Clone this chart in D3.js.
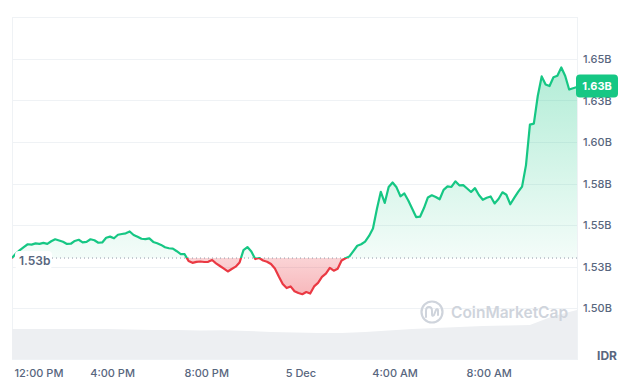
<!DOCTYPE html>
<html><head><meta charset="utf-8">
<script src="https://cdn.jsdelivr.net/npm/d3@7"></script>
<style>
html,body{margin:0;padding:0;background:#fff;}
svg{display:block;font-family:Inter,"Noto Sans",sans-serif;}
</style></head>
<body><svg id="c" width="628" height="383"></svg>
<script>
// ---- data ----
const startTime = new Date(2024, 11, 4, 11, 45);
const stepMinutes = 10;
// price in billions IDR, 10-minute samples
const prices = [
1.5301,1.5328,1.5349,1.5367,1.5384,1.5382,1.5389,1.5386,1.5392,1.5386,
1.5402,1.5414,1.5407,1.5399,1.5386,1.5387,1.5404,1.5411,1.5395,1.5398,
1.5414,1.5408,1.5393,1.5395,1.5423,1.5430,1.5420,1.5441,1.5446,1.5450,
1.5461,1.5440,1.5429,1.5417,1.5415,1.5419,1.5398,1.5390,1.5380,1.5366,
1.5360,1.5358,1.5342,1.5325,1.5324,1.5283,1.5272,1.5278,1.5280,1.5277,
1.5278,1.5289,1.5269,1.5253,1.5237,1.5220,1.5235,1.5249,1.5274,1.5349,
1.5367,1.5340,1.5295,1.5301,1.5286,1.5279,1.5265,1.5238,1.5190,1.5145,
1.5120,1.5130,1.5101,1.5090,1.5083,1.5096,1.5087,1.5130,1.5151,1.5187,
1.5207,1.5242,1.5225,1.5237,1.5286,1.5300,1.5311,1.5343,1.5375,1.5384,
1.5400,1.5434,1.5479,1.5596,1.5700,1.5633,1.5729,1.5756,1.5727,1.5673,
1.5690,1.5648,1.5598,1.5548,1.5550,1.5602,1.5666,1.5679,1.5669,1.5655,
1.5712,1.5733,1.5729,1.5763,1.5739,1.5740,1.5720,1.5699,1.5722,1.5681,
1.5652,1.5664,1.5672,1.5630,1.5657,1.5697,1.5682,1.5625,1.5663,1.5699,
1.5731,1.5861,1.6105,1.6111,1.6277,1.6395,1.6346,1.6337,1.6390,1.6399,
1.6449,1.6398,1.6316,1.6324,1.6331
];
// 24h volume, trillions IDR, hourly samples
const volumes = [600,600,600,600,600,590,580,580,570,574,560,540,530,520,520,540,570,600,620,640,660,670,680,860,980];
const yTickValues = [1.50,1.525,1.55,1.575,1.60,1.625,1.65];
const yTickLabels = ["1.50B","1.53B","1.55B","1.58B","1.60B","1.63B","1.65B"];
const xTickValues = [new Date(2024,11,4,12),new Date(2024,11,4,16),new Date(2024,11,4,20),new Date(2024,11,5,0),new Date(2024,11,5,4),new Date(2024,11,5,8)];
const xTickLabels = ["12:00 PM","4:00 PM","8:00 PM","5 Dec","4:00 AM","8:00 AM"];
const currencyLabel = "IDR";
const baseLabel = "1.53b";
const lastLabel = "1.63B";

// ---- layout ----
const L = 12, R = 577, T = 17, B = 359;
const GREEN = "#16c784", RED = "#ea3943", GREY = "#58667e";
const svg = d3.select("#c");

const times = prices.map((d,i) => d3.timeMinute.offset(startTime, i*stepMinutes));
const volTimes = volumes.map((d,i) => d3.timeHour.offset(startTime, i));
const x = d3.scaleTime().domain([times[0], times[times.length-1]]).range([L, R]);
const y = d3.scaleLinear().domain([1.50, 1.65]).range([308, 59]);
const yVol = d3.scaleLinear().domain([0, 1000]).range([B, B-50]);
const base = prices[0];
const yb = y(base);

const defs = svg.append("defs");
const gg = defs.append("linearGradient").attr("id","gGreen").attr("gradientUnits","userSpaceOnUse")
  .attr("x1",0).attr("x2",0).attr("y1",y(1.65)).attr("y2",yb);
gg.append("stop").attr("offset",0).attr("stop-color",GREEN).attr("stop-opacity",0.34);
gg.append("stop").attr("offset",1).attr("stop-color",GREEN).attr("stop-opacity",0.05);
const gr = defs.append("linearGradient").attr("id","gRed").attr("gradientUnits","userSpaceOnUse")
  .attr("x1",0).attr("x2",0).attr("y1",yb).attr("y2",y(1.508));
gr.append("stop").attr("offset",0).attr("stop-color",RED).attr("stop-opacity",0.22);
gr.append("stop").attr("offset",1).attr("stop-color",RED).attr("stop-opacity",0.36);
defs.append("clipPath").attr("id","cAbove").append("rect").attr("x",L).attr("y",T).attr("width",R-L+2).attr("height",yb-T);
defs.append("clipPath").attr("id","cBelow").append("rect").attr("x",L).attr("y",yb).attr("width",R-L+2).attr("height",B-yb);

// frame
svg.append("rect").attr("x",L+0.5).attr("y",T+0.5).attr("width",R-L).attr("height",B-T)
  .attr("fill","none").attr("stroke","#eff2f5");

// gridlines
svg.append("g").selectAll("line").data(yTickValues).join("line")
  .attr("x1",L).attr("x2",R).attr("y1",d=>Math.round(y(d))+0.5).attr("y2",d=>Math.round(y(d))+0.5)
  .attr("stroke","#eff2f5");

// volume
svg.append("path").datum(volumes)
  .attr("d", d3.area().x((d,i)=>x(volTimes[i])).y0(B).y1(d=>yVol(d)))
  .attr("fill","#edeff2");

// watermark
const wm = svg.append("g").attr("transform","translate(432,312)");
wm.append("circle").attr("r",10.5).attr("fill","none").attr("stroke","#cfd4dc").attr("stroke-width",2.2);
wm.append("path").attr("d","M-6,5 L-6,-1 Q-6,-5 -3,-5 Q0,-5 0,-1 L0,2 Q0,5 2,3 L4,-2 Q5,-4 6,-2 L6,3")
  .attr("fill","none").attr("stroke","#cfd4dc").attr("stroke-width",2).attr("stroke-linecap","round");
svg.append("text").attr("x",451).attr("y",318).attr("font-size",15.5).attr("font-weight",600)
  .attr("fill","#cfd4dc").text("CoinMarketCap");

// areas
const area = d3.area().x((d,i)=>x(times[i])).y0(yb).y1(d=>y(d));
svg.append("path").datum(prices).attr("d",area).attr("fill","url(#gGreen)").attr("clip-path","url(#cAbove)");
svg.append("path").datum(prices).attr("d",area).attr("fill","url(#gRed)").attr("clip-path","url(#cBelow)");

// baseline dotted
svg.append("line").attr("x1",L).attr("x2",R).attr("y1",yb).attr("y2",yb)
  .attr("stroke","#8f98a8").attr("stroke-width",1).attr("stroke-dasharray","1,3");

// lines
const line = d3.line().x((d,i)=>x(times[i])).y(d=>y(d));
svg.append("path").datum(prices).attr("d",line).attr("fill","none").attr("stroke",GREEN)
  .attr("stroke-width",2.2).attr("stroke-linejoin","round").attr("clip-path","url(#cAbove)");
svg.append("path").datum(prices).attr("d",line).attr("fill","none").attr("stroke",RED)
  .attr("stroke-width",2.2).attr("stroke-linejoin","round").attr("clip-path","url(#cBelow)");

// base label
svg.append("rect").attr("x",15).attr("y",yb-7).attr("width",37).attr("height",18).attr("rx",4).attr("fill","#fff");
svg.append("text").attr("x",19).attr("y",yb+7).attr("font-size",12).attr("font-weight",600)
  .attr("fill",GREY).text(baseLabel);

// y axis
const yAxis = d3.axisRight(y).tickValues(yTickValues).tickSize(0).tickPadding(0)
  .tickFormat((d,i)=>yTickLabels[i]);
const gy = svg.append("g").attr("transform",`translate(${R+6},0)`).call(yAxis);
gy.select(".domain").remove();
gy.selectAll("text").attr("font-size",11).attr("font-weight",500).attr("fill",GREY).attr("font-family","Inter");

// x axis
const xAxis = d3.axisBottom(x).tickValues(xTickValues).tickSize(0).tickPadding(0)
  .tickFormat((d,i)=>xTickLabels[i]);
const gx = svg.append("g").attr("transform",`translate(0,369)`).call(xAxis);
gx.select(".domain").remove();
gx.selectAll("text").attr("font-size",11).attr("font-weight",500).attr("fill",GREY).attr("font-family","Inter");
gx.selectAll(".tick").each(function(d){
  const t = d3.select(this).select("text");
  const w = this.getBBox().width;
  if (x(d) - w/2 < L) { t.attr("text-anchor","start").attr("x", 14 - x(d)); }
});

// currency
svg.append("text").attr("x",617).attr("y",360).attr("text-anchor","end").attr("font-size",12)
  .attr("font-weight",700).attr("fill",GREY).text(currencyLabel);

// last price badge
const yl = y(prices[prices.length-1]);
svg.append("rect").attr("x",576).attr("y",yl-12.5).attr("width",42).attr("height",23).attr("rx",4).attr("fill",GREEN);
svg.append("text").attr("x",597).attr("y",yl+3).attr("text-anchor","middle").attr("font-size",11)
  .attr("font-weight",700).attr("fill","#fff").text(lastLabel);
</script></body></html>
